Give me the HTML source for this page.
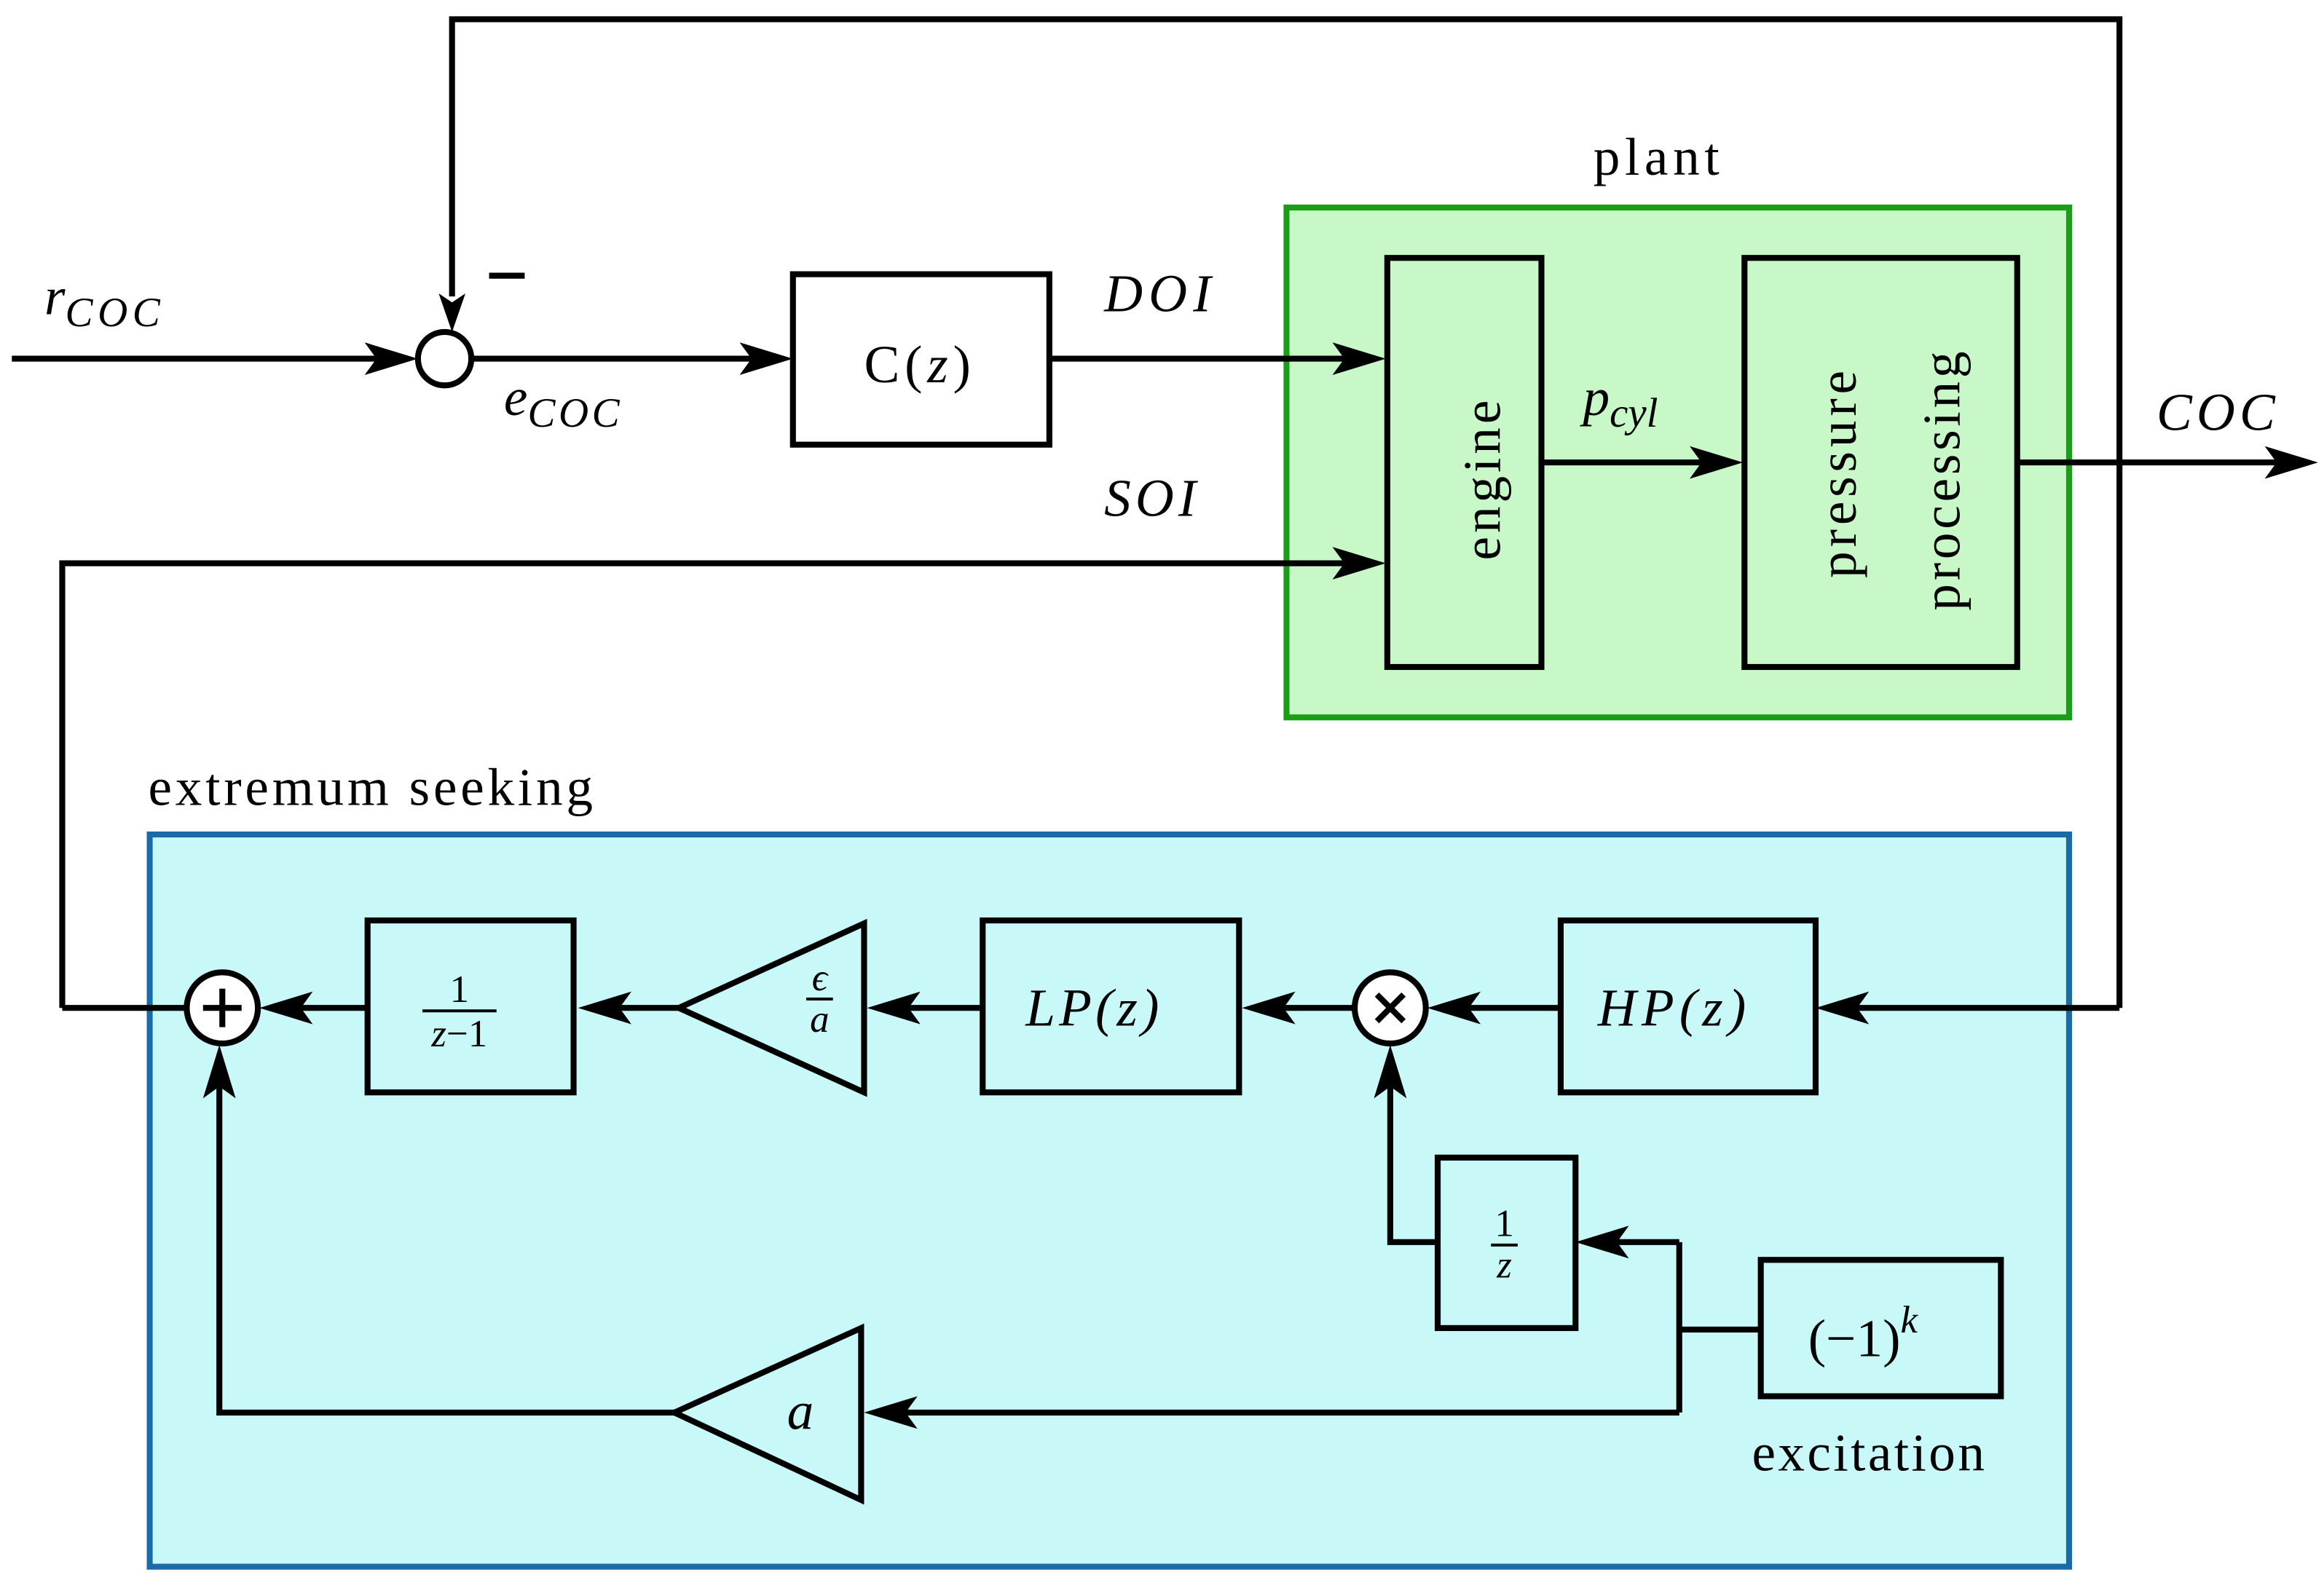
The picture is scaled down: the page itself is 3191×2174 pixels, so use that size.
<!DOCTYPE html>
<html><head><meta charset="utf-8"><style>
html,body{margin:0;padding:0;background:#fff;}
svg{display:block;}
text{font-family:"Liberation Serif",serif;fill:#000;}
</style></head><body>
<svg width="3191" height="2174" viewBox="0 0 1568 1068" preserveAspectRatio="none" xmlns="http://www.w3.org/2000/svg">
<g id="boxes">
<rect x="868" y="140" width="528" height="344" fill="#c8f8c8" stroke="#1a9e1a" stroke-width="4"/>
<rect x="101" y="563" width="1295" height="494" fill="#c8f8f8" stroke="#1a6aa8" stroke-width="4"/>
</g>
<g fill="none" stroke="#000" stroke-width="4" stroke-linejoin="miter">
<polyline points="1430,680 1430,13 305,13 305,200"/>
<line x1="8" y1="242" x2="270" y2="242"/>
<circle cx="300" cy="242" r="18" fill="#fff"/>
<line x1="318" y1="242" x2="522" y2="242"/>
<rect x="535" y="185" width="173" height="115" fill="#fff"/>
<line x1="708" y1="242" x2="922" y2="242"/>
<polyline points="42,680 42,380 922,380"/>
<rect x="936" y="174" width="104" height="276" fill="#c8f8c8"/>
<line x1="1040" y1="312" x2="1163" y2="312"/>
<rect x="1177" y="174" width="184" height="276" fill="#c8f8c8"/>
<line x1="1361" y1="312" x2="1550" y2="312"/>
<line x1="42" y1="680" x2="126" y2="680"/>
<circle cx="150" cy="680" r="24" fill="#fff"/>
<line x1="248" y1="680" x2="188" y2="680"/>
<rect x="248" y="621" width="139" height="116" fill="#c8f8f8"/>
<polygon points="458,680 583,623 583,737" fill="#c8f8f8"/>
<line x1="458" y1="680" x2="402" y2="680"/>
<line x1="663" y1="680" x2="597" y2="680"/>
<rect x="663" y="621" width="173" height="116" fill="#c8f8f8"/>
<line x1="914" y1="680" x2="850" y2="680"/>
<circle cx="938" cy="680" r="24" fill="#fff"/>
<line x1="1053" y1="680" x2="976" y2="680"/>
<rect x="1053" y="621" width="172" height="116" fill="#c8f8f8"/>
<line x1="1430" y1="680" x2="1238" y2="680"/>
<rect x="970" y="781" width="93" height="115" fill="#c8f8f8"/>
<polyline points="970,838 938,838 938,718"/>
<rect x="1188" y="850" width="162" height="92" fill="#c8f8f8"/>
<polyline points="1188,897 1133,897"/>
<polyline points="1133,838 1133,953"/>
<line x1="1133" y1="838" x2="1076" y2="838"/>
<line x1="1133" y1="953" x2="596" y2="953"/>
<polygon points="455,953 581,896 581,1012" fill="#c8f8f8"/>
<polyline points="455,953 148,953 148,718"/>
</g>
<g stroke="#000" stroke-width="4">
<line x1="150" y1="667" x2="150" y2="693"/><line x1="137" y1="680" x2="163" y2="680"/>
<line x1="929" y1="671" x2="947" y2="689"/><line x1="947" y1="671" x2="929" y2="689"/>
<line x1="330" y1="186" x2="354" y2="186"/>
</g>
<g fill="#000">
<path d="M305,224 l-9,-26 l9,6 l9,-6 z"/>
<path d="M282,242 l-36,-11 l8,11 l-8,11 z"/>
<path d="M535,242 l-36,-11 l8,11 l-8,11 z"/>
<path d="M935,242 l-36,-11 l8,11 l-8,11 z"/>
<path d="M935,380 l-36,-11 l8,11 l-8,11 z"/>
<path d="M1176,312 l-36,-11 l8,11 l-8,11 z"/>
<path d="M1564,312 l-36,-11 l8,11 l-8,11 z"/>
<path d="M175,680 l36,-11 l-8,11 l8,11 z"/>
<path d="M390,680 l36,-11 l-8,11 l8,11 z"/>
<path d="M585,680 l36,-11 l-8,11 l8,11 z"/>
<path d="M838,680 l36,-11 l-8,11 l8,11 z"/>
<path d="M963,680 l36,-11 l-8,11 l8,11 z"/>
<path d="M1225,680 l36,-11 l-8,11 l8,11 z"/>
<path d="M1063,838 l36,-11 l-8,11 l8,11 z"/>
<path d="M583,953 l36,-11 l-8,11 l8,11 z"/>
<path d="M938,705 l-11,36 l11,-8 l11,8 z"/>
<path d="M148,705 l-11,36 l11,-8 l11,8 z"/>
</g>
<g font-size="36">
<text x="30" y="212" font-style="italic">r<tspan font-size="28" dy="8" textLength="64">COC</tspan></text>
<text x="340" y="280" font-style="italic">e<tspan font-size="28" dy="8" textLength="62">COC</tspan></text>
<text x="583" y="258" textLength="72">C(<tspan font-style="italic">z</tspan>)</text>
<text x="745" y="210" font-style="italic" textLength="72">DOI</text>
<text x="745" y="348" font-style="italic" textLength="62">SOI</text>
<text x="1075" y="118" textLength="85">plant</text>
<text x="1068" y="280" font-style="italic">p<tspan font-size="28" dy="8">cyl</tspan></text>
<text x="1455" y="290" font-style="italic" textLength="80">COC</text>
<text transform="translate(1012,378) rotate(-90)" textLength="108">engine</text>
<text transform="translate(1252,390) rotate(-90)" textLength="140">pressure</text>
<text transform="translate(1322,412) rotate(-90)" textLength="175">processing</text>
<text x="100" y="543" textLength="300">extremum seeking</text>
<text x="692" y="692" font-style="italic" textLength="90">LP(z)</text>
<text x="1078" y="692" font-style="italic" textLength="100">HP(z)</text>
<text x="1220" y="915">(−1)<tspan font-size="26" dy="-16" font-style="italic">k</tspan></text>
<text x="1182" y="992" textLength="157">excitation</text>
<text x="540" y="964" text-anchor="middle" font-style="italic">a</text>
</g>
<g font-size="26">
<text x="310" y="676" text-anchor="middle">1</text>
<line x1="285" y1="682" x2="335" y2="682" stroke="#000" stroke-width="2"/>
<text x="310" y="706" text-anchor="middle" font-style="italic">z<tspan font-style="normal">−1</tspan></text>
<text x="553" y="668" text-anchor="middle" font-style="italic">ϵ</text>
<line x1="544" y1="674" x2="562" y2="674" stroke="#000" stroke-width="2"/>
<text x="553" y="696" text-anchor="middle" font-style="italic">a</text>
<text x="1015" y="834" text-anchor="middle">1</text>
<line x1="1006" y1="840" x2="1024" y2="840" stroke="#000" stroke-width="2"/>
<text x="1015" y="862" text-anchor="middle" font-style="italic">z</text>
</g>
</svg>
</body></html>
